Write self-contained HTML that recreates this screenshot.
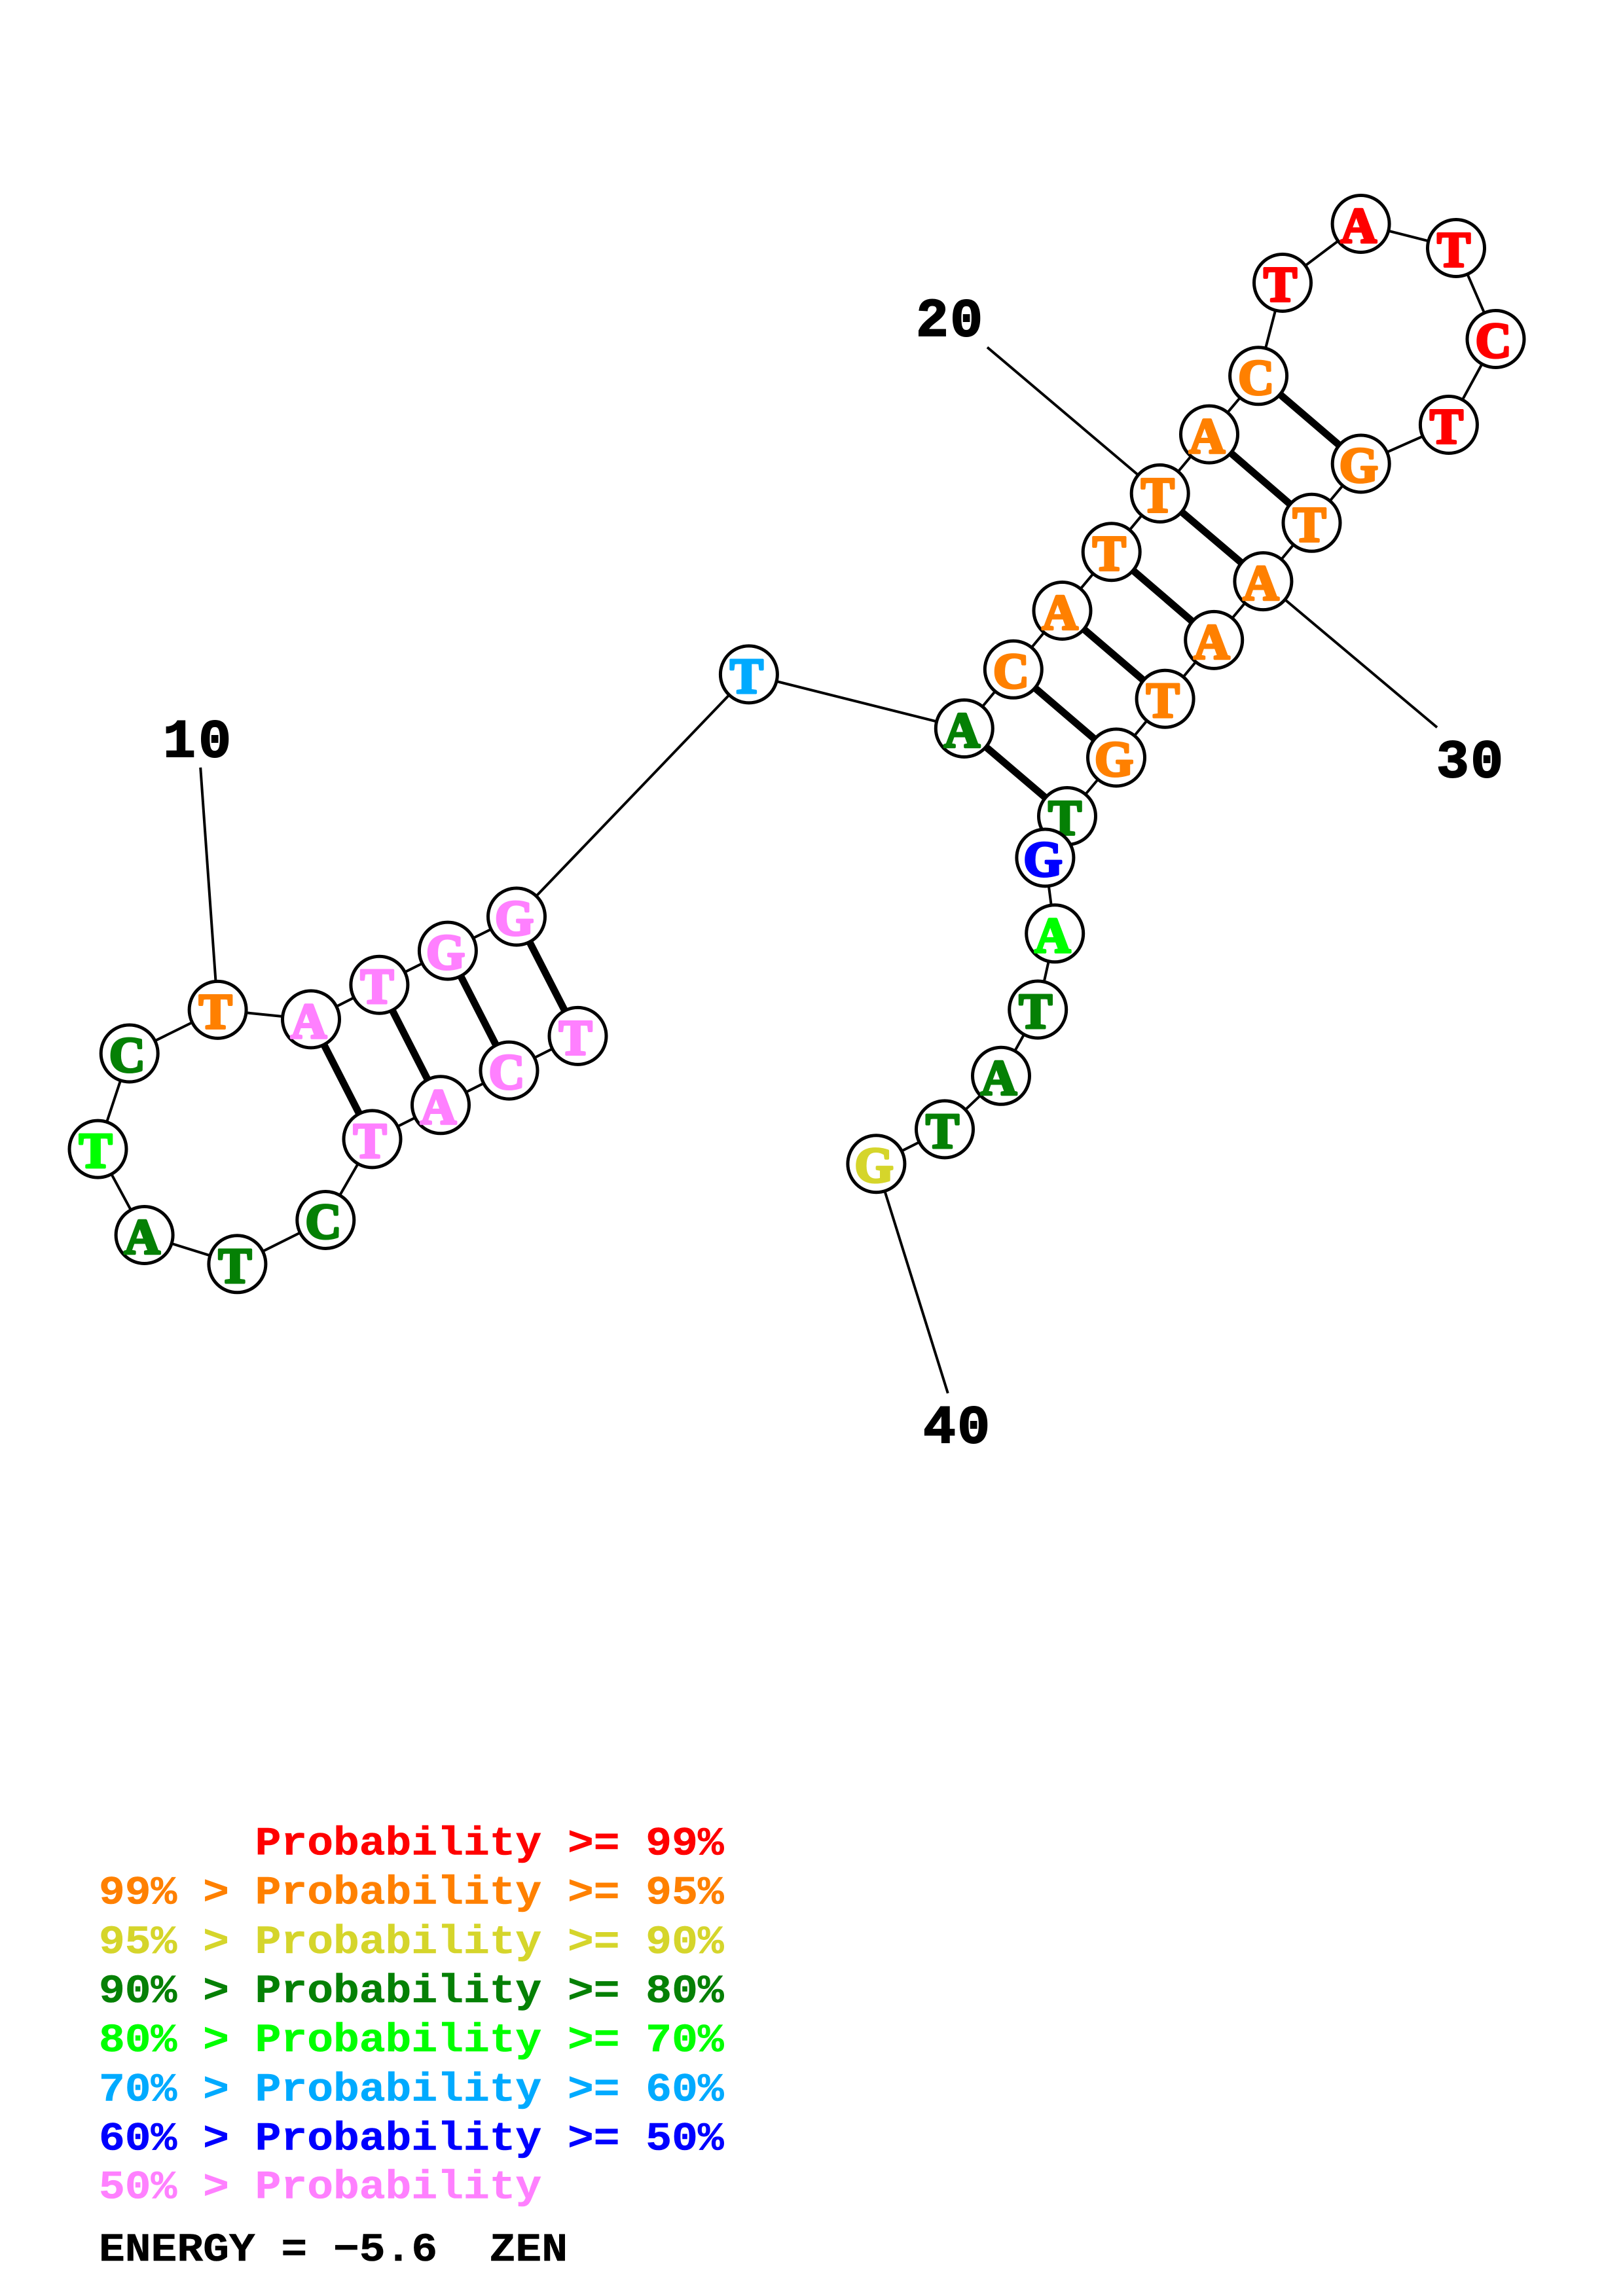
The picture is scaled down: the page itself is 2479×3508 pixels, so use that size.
<!DOCTYPE html>
<html>
<head>
<meta charset="utf-8">
<style>
html,body{margin:0;padding:0;background:#fff}
svg{display:block}
.n circle{fill:#fff;stroke:#000;stroke-width:5}
.n text{font-family:"Liberation Serif",serif;font-weight:bold;font-size:76px;text-anchor:middle;stroke-width:4;stroke-linejoin:round}
.r{fill:#ff0000;stroke:#ff0000}
.o{fill:#ff8000;stroke:#ff8000}
.y{fill:#d5d52b;stroke:#d5d52b}
.g{fill:#058005;stroke:#058005}
.l{fill:#00ff00;stroke:#00ff00}
.s{fill:#00aaff;stroke:#00aaff}
.b{fill:#0000ff;stroke:#0000ff}
.p{fill:#ff80ff;stroke:#ff80ff}
.k{fill:#000;stroke:#000}
.leg text{font-family:"Liberation Mono",monospace;font-weight:bold;font-size:66.3px;white-space:pre;stroke-width:.6}
.lab text{font-family:"Liberation Mono",monospace;font-weight:bold;font-size:83px;fill:#000;stroke:#000;stroke-width:2}
</style>
</head>
<body>
<svg xmlns="http://www.w3.org/2000/svg" width="2479" height="3508" viewBox="0 0 2479 3508">
<rect width="2479" height="3508" fill="#fff"/>
<polyline fill="none" stroke="#000" stroke-width="4" points="882.5,1582.9 777.5,1635.6 673,1688.3 568.5,1740.4 497.3,1864 362.4,1931.3 220.6,1887 149.5,1755.6 197.7,1609.5 332.6,1542.9 475,1557.4 579.4,1504.7 683.9,1452.6 789,1400.5 1143.9,1030.4 1472.8,1113 1547.8,1022.8 1622.5,933 1697.7,843.2 1771.7,753.9 1847,663.6 1922.1,574.3 1959,432 2078.6,342 2224,379 2284.5,518 2212.9,649 2078.7,708.5 2003.5,798.8 1929.4,888.1 1854.2,977.9 1779.6,1067.7 1705,1157.5 1630,1247 1596.4,1310.5 1611.2,1426.3 1585.2,1542.5 1529,1643.8 1443,1725.4 1338.4,1778.2"/>
<g stroke="#000" stroke-width="4">
<line x1="332.6" y1="1542.9" x2="306.2" y2="1172.7"/>
<line x1="1771.7" y1="753.9" x2="1508" y2="530.6"/>
<line x1="1929.4" y1="888.1" x2="2195" y2="1111.4"/>
<line x1="1338.4" y1="1778.2" x2="1447.8" y2="2128.7"/>
</g>
<g stroke="#000" stroke-width="11">
<line x1="789" y1="1400.5" x2="882.5" y2="1582.9"/>
<line x1="683.9" y1="1452.6" x2="777.5" y2="1635.6"/>
<line x1="579.4" y1="1504.7" x2="673" y2="1688.3"/>
<line x1="475" y1="1557.4" x2="568.5" y2="1740.4"/>
<line x1="1472.8" y1="1113" x2="1630" y2="1247"/>
<line x1="1547.8" y1="1022.8" x2="1705" y2="1157.5"/>
<line x1="1622.5" y1="933" x2="1779.6" y2="1067.7"/>
<line x1="1697.7" y1="843.2" x2="1854.2" y2="977.9"/>
<line x1="1771.7" y1="753.9" x2="1929.4" y2="888.1"/>
<line x1="1847" y1="663.6" x2="2003.5" y2="798.8"/>
<line x1="1922.1" y1="574.3" x2="2078.7" y2="708.5"/>
</g>
<g class="n">
<circle cx="882.5" cy="1582.9" r="43.5"/><text x="879.1" y="1610.9" class="p">T</text>
<circle cx="777.5" cy="1635.6" r="43.5"/><text x="774.1" y="1663.6" class="p">C</text>
<circle cx="673" cy="1688.3" r="43.5"/><text x="669.6" y="1716.3" class="p">A</text>
<circle cx="568.5" cy="1740.4" r="43.5"/><text x="565.1" y="1768.4" class="p">T</text>
<circle cx="497.3" cy="1864" r="43.5"/><text x="493.9" y="1892" class="g">C</text>
<circle cx="362.4" cy="1931.3" r="43.5"/><text x="359" y="1959.3" class="g">T</text>
<circle cx="220.6" cy="1887" r="43.5"/><text x="217.2" y="1915" class="g">A</text>
<circle cx="149.5" cy="1755.6" r="43.5"/><text x="146.1" y="1783.6" class="l">T</text>
<circle cx="197.7" cy="1609.5" r="43.5"/><text x="194.3" y="1637.5" class="g">C</text>
<circle cx="332.6" cy="1542.9" r="43.5"/><text x="329.2" y="1570.9" class="o">T</text>
<circle cx="475" cy="1557.4" r="43.5"/><text x="471.6" y="1585.4" class="p">A</text>
<circle cx="579.4" cy="1504.7" r="43.5"/><text x="576" y="1532.7" class="p">T</text>
<circle cx="683.9" cy="1452.6" r="43.5"/><text x="680.5" y="1480.6" class="p">G</text>
<circle cx="789" cy="1400.5" r="43.5"/><text x="785.6" y="1428.5" class="p">G</text>
<circle cx="1143.9" cy="1030.4" r="43.5"/><text x="1140.5" y="1058.4" class="s">T</text>
<circle cx="1472.8" cy="1113" r="43.5"/><text x="1469.4" y="1141" class="g">A</text>
<circle cx="1547.8" cy="1022.8" r="43.5"/><text x="1544.4" y="1050.8" class="o">C</text>
<circle cx="1622.5" cy="933" r="43.5"/><text x="1619.1" y="961" class="o">A</text>
<circle cx="1697.7" cy="843.2" r="43.5"/><text x="1694.3" y="871.2" class="o">T</text>
<circle cx="1771.7" cy="753.9" r="43.5"/><text x="1768.3" y="781.9" class="o">T</text>
<circle cx="1847" cy="663.6" r="43.5"/><text x="1843.6" y="691.6" class="o">A</text>
<circle cx="1922.1" cy="574.3" r="43.5"/><text x="1918.7" y="602.3" class="o">C</text>
<circle cx="1959" cy="432" r="43.5"/><text x="1955.6" y="460" class="r">T</text>
<circle cx="2078.6" cy="342" r="43.5"/><text x="2075.2" y="370" class="r">A</text>
<circle cx="2224" cy="379" r="43.5"/><text x="2220.6" y="407" class="r">T</text>
<circle cx="2284.5" cy="518" r="43.5"/><text x="2281.1" y="546" class="r">C</text>
<circle cx="2212.9" cy="649" r="43.5"/><text x="2209.5" y="677" class="r">T</text>
<circle cx="2078.7" cy="708.5" r="43.5"/><text x="2075.3" y="736.5" class="o">G</text>
<circle cx="2003.5" cy="798.8" r="43.5"/><text x="2000.1" y="826.8" class="o">T</text>
<circle cx="1929.4" cy="888.1" r="43.5"/><text x="1926" y="916.1" class="o">A</text>
<circle cx="1854.2" cy="977.9" r="43.5"/><text x="1850.8" y="1005.9" class="o">A</text>
<circle cx="1779.6" cy="1067.7" r="43.5"/><text x="1776.2" y="1095.7" class="o">T</text>
<circle cx="1705" cy="1157.5" r="43.5"/><text x="1701.6" y="1185.5" class="o">G</text>
<circle cx="1630" cy="1247" r="43.5"/><text x="1626.6" y="1275" class="g">T</text>
<circle cx="1596.4" cy="1310.5" r="43.5"/><text x="1593" y="1338.5" class="b">G</text>
<circle cx="1611.2" cy="1426.3" r="43.5"/><text x="1607.8" y="1454.3" class="l">A</text>
<circle cx="1585.2" cy="1542.5" r="43.5"/><text x="1581.8" y="1570.5" class="g">T</text>
<circle cx="1529" cy="1643.8" r="43.5"/><text x="1525.6" y="1671.8" class="g">A</text>
<circle cx="1443" cy="1725.4" r="43.5"/><text x="1439.6" y="1753.4" class="g">T</text>
<circle cx="1338.4" cy="1778.2" r="43.5"/><text x="1335" y="1806.2" class="y">G</text>
</g>
<g class="lab">
<text x="249" y="1156" textLength="104" lengthAdjust="spacing">10</text>
<text x="1399" y="513" textLength="102" lengthAdjust="spacing">20</text>
<text x="2194" y="1187" textLength="102" lengthAdjust="spacing">30</text>
<text x="1410" y="2204" textLength="102" lengthAdjust="spacing">40</text>
</g>
<g class="leg">
<text transform="translate(151,2833.5) scale(1,.92)" class="r" xml:space="preserve">      Probability &gt;= 99%</text>
<text transform="translate(151,2908.7) scale(1,.92)" class="o" xml:space="preserve">99% &gt; Probability &gt;= 95%</text>
<text transform="translate(151,2983.9) scale(1,.92)" class="y" xml:space="preserve">95% &gt; Probability &gt;= 90%</text>
<text transform="translate(151,3059) scale(1,.92)" class="g" xml:space="preserve">90% &gt; Probability &gt;= 80%</text>
<text transform="translate(151,3134.2) scale(1,.92)" class="l" xml:space="preserve">80% &gt; Probability &gt;= 70%</text>
<text transform="translate(151,3209.3) scale(1,.92)" class="s" xml:space="preserve">70% &gt; Probability &gt;= 60%</text>
<text transform="translate(151,3284.5) scale(1,.92)" class="b" xml:space="preserve">60% &gt; Probability &gt;= 50%</text>
<text transform="translate(151,3358.5) scale(1,.92)" class="p" xml:space="preserve">50% &gt; Probability</text>
<text transform="translate(151,3454) scale(1,.92)" class="k" xml:space="preserve">ENERGY = −5.6  ZEN</text>
</g>
</svg>
</body>
</html>
